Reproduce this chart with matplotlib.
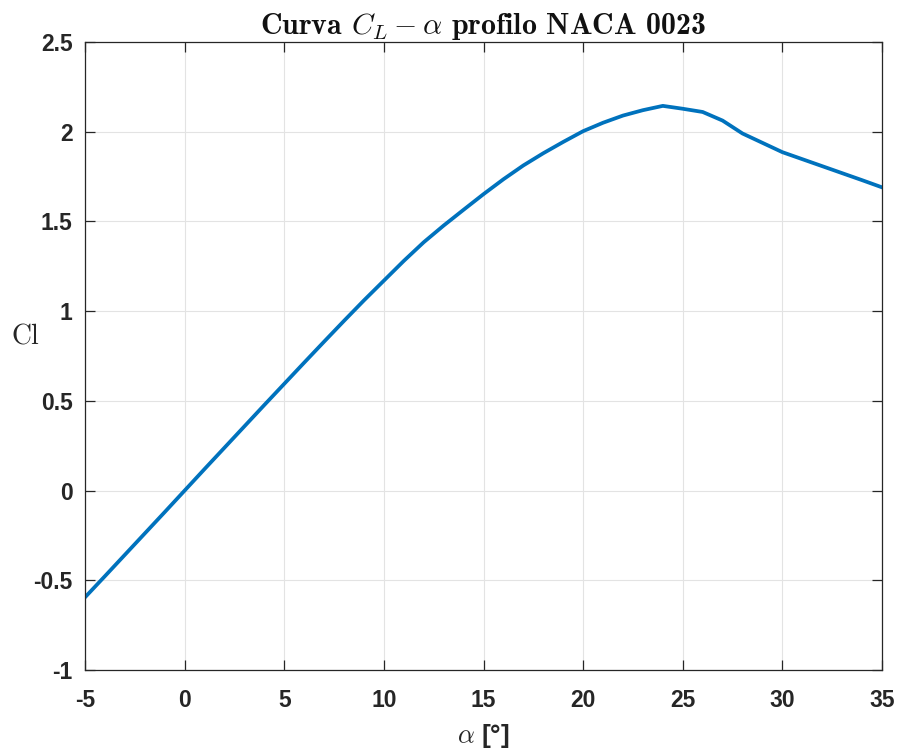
import numpy as np
import matplotlib
matplotlib.use("Agg")
import matplotlib.pyplot as plt

# angle of attack [deg] and lift coefficient
alpha = [-5, -4, -3, -2, -1, 0, 1, 2, 3, 4, 5, 6, 7, 8, 9, 10, 11, 12, 13, 14,
         15, 16, 17, 18, 19, 20, 21, 22, 23, 24, 25, 26, 27, 28, 29, 30, 31, 32, 33, 34, 35]
cl = [-0.595, -0.477, -0.358, -0.239, -0.12, 0.0, 0.12, 0.239, 0.358, 0.477, 0.595,
      0.713, 0.83, 0.946, 1.06, 1.17, 1.28, 1.384, 1.477, 1.565, 1.652, 1.735, 1.812,
      1.88, 1.943, 2.003, 2.05, 2.09, 2.12, 2.144, 2.128, 2.11, 2.062, 1.99, 1.938,
      1.886, 1.847, 1.808, 1.769, 1.73, 1.69]

xticks = [-5, 0, 5, 10, 15, 20, 25, 30, 35]
yticks = [-1, -0.5, 0, 0.5, 1, 1.5, 2, 2.5]
ytick_labels = ['-1', '-0.5', '0', '0.5', '1', '1.5', '2', '2.5']
xtick_labels = ['-5', '0', '5', '10', '15', '20', '25', '30', '35']

plt.rcParams['mathtext.fontset'] = 'cm'

fig = plt.figure(figsize=(8.98, 7.49), dpi=100)
ax = fig.add_axes([85 / 898, 1 - 670 / 749, 797 / 898, 628 / 749])

ax.plot(alpha, cl, color='#0072BD', linewidth=2.7, solid_joinstyle='round')

ax.set_xlim(-5, 35)
ax.set_ylim(-1, 2.5)
ax.set_xticks(xticks)
ax.set_yticks(yticks)
ax.set_xticklabels(xtick_labels, fontfamily='Liberation Sans', fontweight='bold', fontsize=16.5)
ax.set_yticklabels(ytick_labels, fontfamily='Liberation Sans', fontweight='bold', fontsize=16.5)
ax.tick_params(direction='in', length=7, width=0.9, color='#262626', top=True, right=True,
               labelcolor='#262626')
ax.tick_params(axis='x', pad=14)
ax.tick_params(axis='y', pad=9)
for s in ax.spines.values():
    s.set_color('#262626')
    s.set_linewidth(0.9)
ax.grid(True, color='#e3e3e3', linewidth=0.8)
ax.set_axisbelow(True)

ax.set_title(r'Curva $C_L - \alpha$ profilo NACA 0023', fontfamily='cmb10',
             fontsize=21.5, pad=6, color='#111111')
ax.set_ylabel('Cl', fontfamily='cmr10', fontsize=20, rotation=0, color='#262626',
              ha='center', va='center')
ax.yaxis.set_label_coords(-0.0747, 0.5295)
ax.set_xlabel(r'$\alpha$ [°]', fontfamily='Liberation Sans', fontweight='bold',
              fontsize=19, color='#262626', labelpad=7)

fig.savefig('out.png', dpi=100)
